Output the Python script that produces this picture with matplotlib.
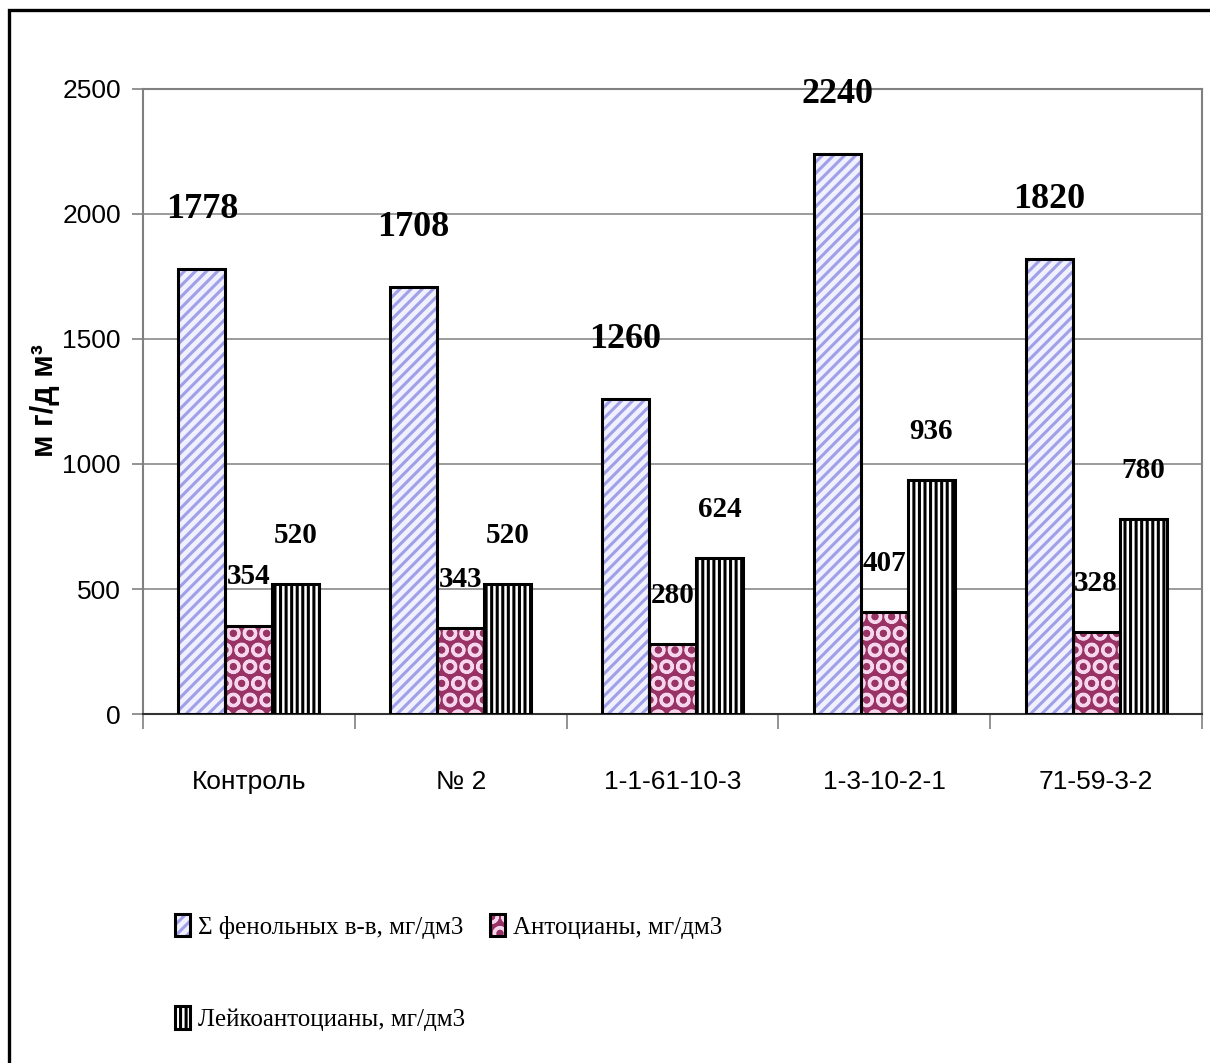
import matplotlib
matplotlib.use("Agg")
import matplotlib.pyplot as plt
from matplotlib.patches import Rectangle
from matplotlib.legend_handler import HandlerTuple
import numpy as np

categories = ["Контроль", "№ 2", "1-1-61-10-3", "1-3-10-2-1", "71-59-3-2"]
phenols = [1778, 1708, 1260, 2240, 1820]
anthocyanins = [354, 343, 280, 407, 328]
leucoanthocyanins = [520, 520, 624, 936, 780]
series_names = ["Σ фенольных в-в, мг/дм3", "Антоцианы, мг/дм3", "Лейкоантоцианы, мг/дм3"]

plt.rcParams["hatch.linewidth"] = 2.2
sans = ["Liberation Sans", "DejaVu Sans"]
serif = ["Liberation Serif", "DejaVu Serif"]

fig = plt.figure(figsize=(12.1, 10.63), dpi=100)
ax = fig.add_axes([0.1182, 0.3283, 0.9934 - 0.1182, 0.9163 - 0.3283])

x = np.arange(len(categories))
w = 0.222
styles = [
    dict(face="#f0f0ff", hatch="///", hcolor="#a0a0e8"),
    dict(face="#993366", hatch="O", hcolor="#f6d6ec"),
    dict(face="white", hatch="|||", hcolor="black"),
]
handles = []
for i, (vals, st) in enumerate(zip([phenols, anthocyanins, leucoanthocyanins], styles)):
    pos = x + (i - 1) * w
    fill = ax.bar(pos, vals, w, color=st["face"], edgecolor=st["hcolor"],
                  hatch=st["hatch"], linewidth=0, zorder=3)
    outline = ax.bar(pos, vals, w, fill=False, edgecolor="black", linewidth=2.2, zorder=4)
    handles.append((fill[0], outline[0]))
    # value labels above bars
    big = i == 0
    for px, v in zip(pos, vals):
        ax.annotate(str(v), (px, v), xytext=(0, 43 if big else 35), textcoords="offset points",
                    ha="center", va="center", family=serif, fontweight="bold",
                    fontsize=26 if big else 21, zorder=5)

ax.set_xlim(-0.5, len(categories) - 0.5)
ax.set_ylim(0, 2500)
ax.set_yticks(np.arange(0, 2501, 500))
ax.set_xticks(x)
ax.set_xticklabels(categories)
ax.set_xticks(np.arange(-0.5, len(categories)), minor=True)
ax.tick_params(axis="x", which="major", length=0, pad=40, labelsize=19)
ax.tick_params(axis="x", which="minor", length=11, width=1.2, color="#808080", direction="out")
ax.tick_params(axis="y", length=8, width=1.2, color="#808080", pad=8, labelsize=19)
for lab in ax.get_xticklabels() + ax.get_yticklabels():
    lab.set_family(sans)

ax.grid(axis="y", color="#808080", linewidth=1.1, zorder=0)
ax.set_axisbelow(True)
for side in ["left", "top", "right"]:
    ax.spines[side].set_color("#808080")
    ax.spines[side].set_linewidth(1.5)
ax.spines["bottom"].set_color("#333333")
ax.spines["bottom"].set_linewidth(1.5)

fig.text(0.037, 0.6228, "м г/д м³", rotation=90, ha="center", va="center",
         fontsize=22, fontweight="bold", family=sans)

# row order: first, second on top line, third below
leg = fig.legend([handles[0], handles[2], handles[1]],
                 [series_names[0], series_names[2], series_names[1]],
                 handler_map={tuple: HandlerTuple(ndivide=1, pad=0)},
                 ncol=2, loc="upper left", bbox_to_anchor=(0.1347, 0.152),
                 frameon=False, borderpad=0, handlelength=0.6, handleheight=1.0,
                 handletextpad=0.3, labelspacing=2.7, columnspacing=1.0,
                 prop={"family": serif, "size": 18})

fig.patches.append(Rectangle((9 / 1210, -0.05), 1.2, 1 - 10 / 1063 + 0.05,
                             transform=fig.transFigure, fill=False,
                             edgecolor="black", linewidth=2.4))

fig.savefig("out.png", dpi=100, facecolor="white")
